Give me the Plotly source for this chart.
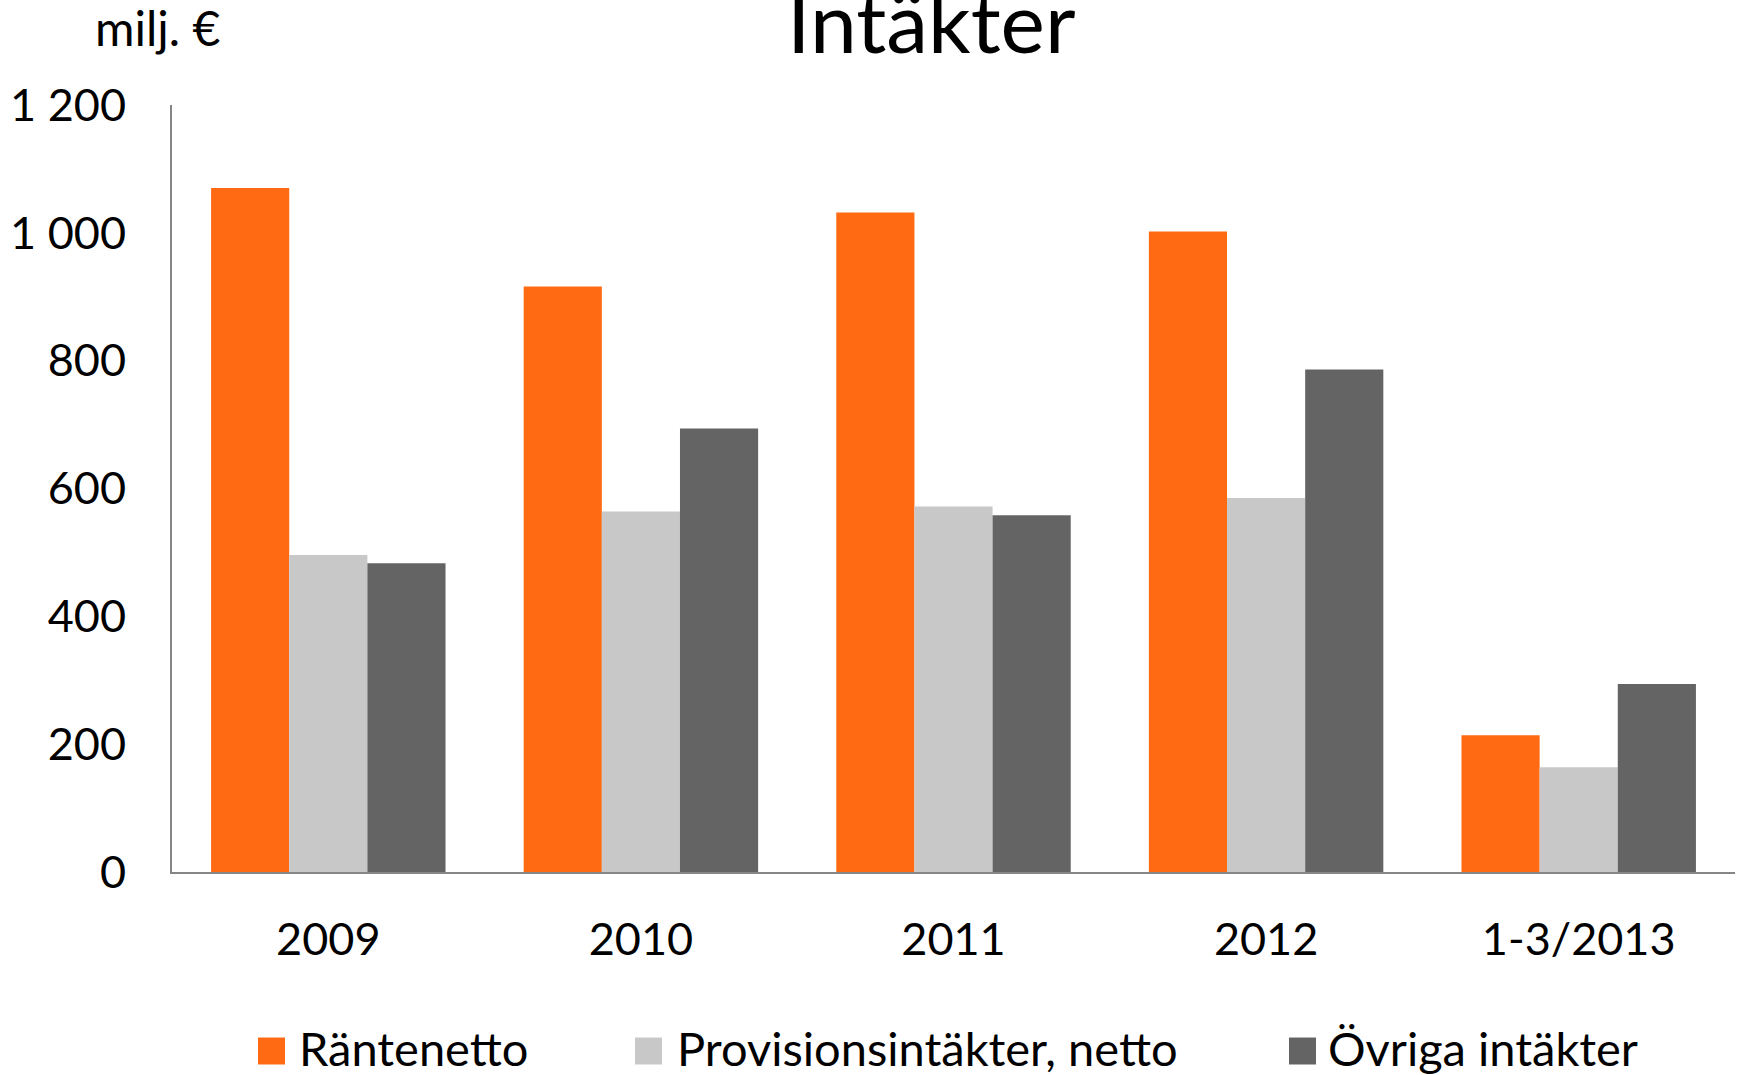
import plotly.graph_objects as go

# Revenue breakdown, millions of euro
categories = ["2009", "2010", "2011", "2012", "1-3/2013"]
series_names = ["Räntenetto", "Provisionsintäkter, netto", "Övriga intäkter"]
rantenetto = [1070, 916, 1032, 1002, 214]
provisioner = [496, 564, 572, 585, 164]
ovriga = [483, 694, 558, 786, 294]
y_ticks = [0, 200, 400, 600, 800, 1000, 1200]

colors = ["#FF6A13", "#C8C8C8", "#646464"]
FONT = "Lato"
W, H = 1738, 1075
ML, MR, MT, MB = 172, 3, 104.5, 202.7
PW, PH = W - ML - MR, H - MT - MB


def px_x(x):
    return (x - ML) / PW


def px_y(y):
    return (H - MB - y) / PH


fig = go.Figure()
for name, vals, col in zip(series_names, [rantenetto, provisioner, ovriga], colors):
    fig.add_trace(go.Bar(x=categories, y=vals, name=name, marker_color=col,
                         marker_line_width=0, showlegend=False))

# Legend drawn as coloured squares with labels beneath the plot
legend_sq_left = [258, 635, 1289]
legend_txt_left = [297, 675, 1326]
shapes = []
annotations = []
for name, col, sx, tx in zip(series_names, colors, legend_sq_left, legend_txt_left):
    shapes.append(dict(type="rect", xref="paper", yref="paper",
                       x0=px_x(sx), x1=px_x(sx + 27), y0=px_y(1065), y1=px_y(1038),
                       fillcolor=col, line_width=0))
    annotations.append(dict(text=name, xref="paper", yref="paper", x=px_x(tx), y=px_y(1048),
                            xanchor="left", yanchor="middle", showarrow=False,
                            font=dict(family=FONT, size=47, color="#000000")))

annotations.append(dict(text="Intäkter", xref="paper", yref="paper", x=px_x(931), y=px_y(20),
                        xanchor="center", yanchor="middle", showarrow=False,
                        font=dict(family=FONT, size=84, color="#000000")))
annotations.append(dict(text="milj. €", xref="paper", yref="paper", x=px_x(93), y=px_y(27),
                        xanchor="left", yanchor="middle", showarrow=False,
                        font=dict(family=FONT, size=48, color="#000000")))

fig.update_layout(
    width=W, height=H,
    margin=dict(l=ML, r=MR, t=MT, b=MB),
    paper_bgcolor="white", plot_bgcolor="white",
    barmode="group", bargap=0.25, bargroupgap=0,
    separators=", ",
    font=dict(family=FONT, size=45, color="#000000"),
    shapes=shapes, annotations=annotations,
)
fig.update_xaxes(showgrid=False, showline=True, linecolor="#868686", linewidth=2,
                 ticks="", ticklabelstandoff=27, tickfont=dict(size=45))
fig.update_yaxes(range=[0, 1200], tickvals=y_ticks, tickformat=",d", showgrid=False,
                 zeroline=False, showline=True, linecolor="#868686", linewidth=2,
                 ticks="", ticklabelstandoff=35, tickfont=dict(size=45))

fig.write_html("out.html")
